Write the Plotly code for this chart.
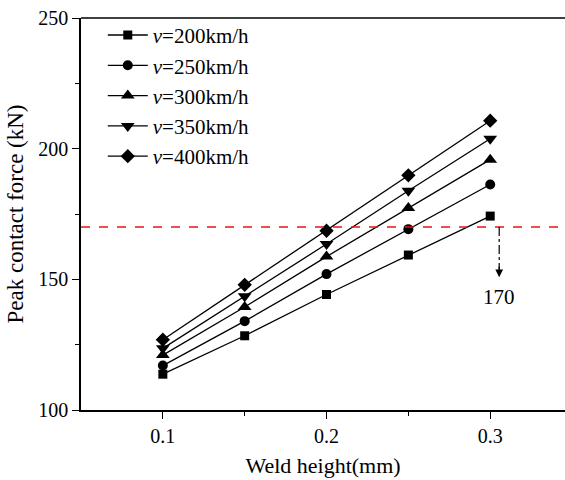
import plotly.graph_objects as go

weld_height = [0.1, 0.15, 0.2, 0.25, 0.3]
series_names = ["200km/h", "250km/h", "300km/h", "350km/h", "400km/h"]
force_200 = [113.7, 128.4, 144.2, 159.3, 174.2]
force_250 = [117.0, 134.0, 152.0, 169.2, 186.3]
force_300 = [121.0, 139.4, 158.7, 177.3, 195.8]
force_350 = [123.6, 143.5, 163.5, 183.9, 203.8]
force_400 = [126.9, 147.9, 168.6, 189.8, 210.7]
threshold = 170
threshold_label = "170"
x_ticks = [0.1, 0.2, 0.3]
y_ticks = [100, 150, 200, 250]

series = [force_200, force_250, force_300, force_350, force_400]
symbols = ["square", "circle", "triangle-up", "triangle-down", "diamond"]
sizes = [9, 10, 12, 12, 11]

FONT = "Liberation Serif"
fig = go.Figure()
for name, vals, sym, sz in zip(series_names, series, symbols, sizes):
    fig.add_trace(go.Scatter(
        x=weld_height, y=vals, mode="lines+markers",
        name="<i>v</i>=" + name,
        line=dict(color="black", width=1.3),
        marker=dict(symbol=sym, size=sz, color="black"),
    ))

arrow_x = 0.3055
# red dashed threshold line
fig.add_shape(type="line", xref="paper", x0=0, x1=1, yref="y", y0=threshold, y1=threshold,
              line=dict(color="#ee1111", width=1.4, dash="dash"))
# dash-dot pointer
fig.add_shape(type="line", xref="x", x0=arrow_x, x1=arrow_x, yref="y", y0=threshold, y1=153,
              line=dict(color="black", width=1.2, dash="dashdot"))
fig.add_annotation(x=arrow_x, y=150.8, xref="x", yref="y", ax=0, ay=-12, text="",
                   showarrow=True, arrowhead=2, arrowsize=1.3, arrowwidth=1.2, arrowcolor="black")
fig.add_annotation(x=arrow_x, y=143.2, xref="x", yref="y", text=threshold_label, showarrow=False,
                   font=dict(family=FONT, size=21, color="black"))
# top frame line
fig.add_shape(type="line", xref="paper", x0=0, x1=1, yref="paper", y0=1, y1=1,
              line=dict(color="black", width=1.5))

fig.update_layout(
    width=565, height=480,
    margin=dict(l=81, r=0, t=18, b=70),
    paper_bgcolor="white", plot_bgcolor="white",
    font=dict(family=FONT, size=20, color="black"),
    showlegend=True,
    legend=dict(x=0.045, y=1.008, xanchor="left", yanchor="top",
                bgcolor="rgba(0,0,0,0)", font=dict(family=FONT, size=21),
                tracegroupgap=0, itemwidth=40),
    xaxis=dict(range=[0.05, 0.3457], tickvals=x_ticks, ticktext=["0.1", "0.2", "0.3"],
               showline=True, linecolor="black", linewidth=1.5, showgrid=False, zeroline=False,
               ticks="outside", ticklen=7, tickwidth=1.3, tickcolor="black",
               minor=dict(tickvals=[0.15, 0.25], ticks="outside", ticklen=4, tickwidth=1.3, tickcolor="black"),
               title=dict(text="Weld height(mm)", font=dict(size=22), standoff=12),
               tickfont=dict(size=20)),
    yaxis=dict(range=[100, 250], tickvals=y_ticks,
               showline=True, linecolor="black", linewidth=1.5, showgrid=False, zeroline=False,
               ticks="outside", ticklen=7, tickwidth=1.3, tickcolor="black",
               minor=dict(tickvals=[125, 175, 225], ticks="outside", ticklen=4, tickwidth=1.3, tickcolor="black"),
               title=dict(text="Peak contact force (kN)", font=dict(size=23), standoff=8),
               tickfont=dict(size=20)),
)

fig.write_html("out.html")
